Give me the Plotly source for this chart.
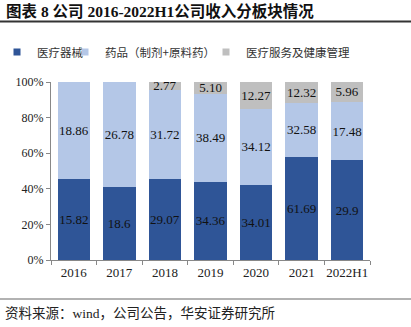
import plotly.graph_objects as go

years = ["2016", "2017", "2018", "2019", "2020", "2021", "2022H1"]
device = [15.82, 18.6, 29.07, 34.36, 34.01, 61.69, 29.9]
drugs = [18.86, 26.78, 31.72, 38.49, 34.12, 32.58, 17.48]
service = [None, None, 2.77, 5.10, 12.27, 12.32, 5.96]
device_lbl = ["15.82", "18.6", "29.07", "34.36", "34.01", "61.69", "29.9"]
drugs_lbl = ["18.86", "26.78", "31.72", "38.49", "34.12", "32.58", "17.48"]
service_lbl = ["", "", "2.77", "5.10", "12.27", "12.32", "5.96"]
names = ["医疗器械", "药品（制剂+原料药）", "医疗服务及健康管理"]
colors = ["#2F5597", "#B4C7E7", "#BFBFBF"]

SERIF = "Liberation Serif, Times New Roman, Noto Sans CJK SC"
CJK = "Noto Sans CJK SC"

L, R, T, B = 51, 41, 82, 67
W, H = 411, 327
pw, ph = W - L - R, H - T - B

def px(x):
    return (x - L) / pw

def py(y):
    return (H - B - y) / ph

fig = go.Figure()
for vals, lbls, name, col in zip([device, drugs, service], [device_lbl, drugs_lbl, service_lbl], names, colors):
    fig.add_trace(go.Bar(
        x=years, y=vals, text=lbls, name=name, marker_color=col,
        marker_line_width=0, textposition="inside", insidetextanchor="middle",
        textangle=0, textfont=dict(family=SERIF, size=13, color="#111111"),
        showlegend=False, hoverinfo="skip"))

legend_ids = ["legend", "legend2", "legend3"]
text_starts = [41, 109, 250]
legend_layout = {}
for name, col, lid, xs in zip(names, colors, legend_ids, text_starts):
    fig.add_trace(go.Scatter(
        x=[None], y=[None], mode="markers", name=name, legend=lid,
        marker=dict(symbol="square", size=7, color=col), showlegend=True))
    legend_layout[lid] = dict(
        orientation="h", x=px(xs - 29), y=py(52), xanchor="left", yanchor="middle",
        font=dict(family=CJK, size=11.5, color="#333333"), indentation=-15,
        itemwidth=30, bgcolor="rgba(0,0,0,0)")

fig.update_layout(
    width=W, height=H, margin=dict(l=L, r=R, t=T, b=B),
    paper_bgcolor="white", plot_bgcolor="white",
    barmode="stack", barnorm="percent", bargap=0.29,
    uniformtext=dict(minsize=13, mode="show"),
    showlegend=True,
    xaxis=dict(showline=True, linecolor="#888888", linewidth=1.3, tickangle=0,
               ticks="outside", tickson="boundaries", ticklen=4, tickcolor="#888888",
               tickfont=dict(family=SERIF, size=13, color="#222222"), showgrid=False),
    yaxis=dict(range=[0, 100], dtick=20, ticksuffix="%", showline=True,
               linecolor="#888888", linewidth=1.3, ticks="outside", ticklen=4,
               tickcolor="#888888", showgrid=False, zeroline=False,
               tickfont=dict(family=SERIF, size=12, color="#222222")),
    shapes=[
        dict(type="line", xref="paper", yref="paper", x0=px(0), x1=px(411),
             y0=py(21.5), y1=py(21.5), line=dict(color="#333333", width=2)),
        dict(type="line", xref="paper", yref="paper", x0=px(0), x1=px(411),
             y0=py(299), y1=py(299), line=dict(color="#999999", width=1.5)),
    ],
    annotations=[
        dict(text="<b>图表 8 公司 2016-2022H1公司收入分板块情况</b>", xref="paper", yref="paper",
             x=px(4), y=py(11), xanchor="left", yanchor="middle", showarrow=False,
             font=dict(family=SERIF, size=15.5, color="#111111")),
        dict(text="资料来源：wind，公司公告，华安证券研究所", xref="paper", yref="paper",
             x=px(3), y=py(313), xanchor="left", yanchor="middle", showarrow=False,
             font=dict(family=SERIF, size=13.5, color="#222222")),
    ],
    **legend_layout,
)

fig.write_html("out.html")
